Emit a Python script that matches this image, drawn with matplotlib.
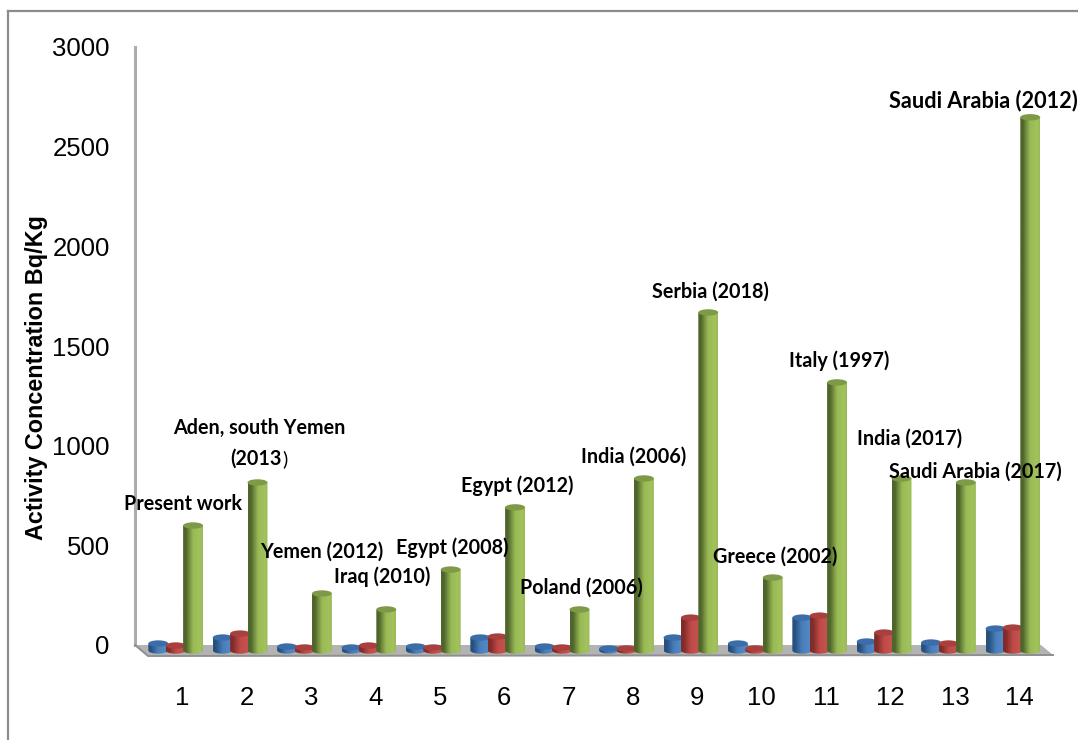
import matplotlib
matplotlib.use("Agg")
import matplotlib.pyplot as plt
import numpy as np
from matplotlib.colors import LinearSegmentedColormap
from matplotlib.patches import Ellipse, PathPatch, Polygon
from matplotlib.path import Path
from matplotlib.lines import Line2D
from matplotlib.transforms import Affine2D

categories = list(range(1, 15))
series_blue = [35, 65, 20, 15, 20, 65, 20, 10, 65, 35, 165, 45, 40, 110]
series_red = [25, 85, 15, 25, 15, 70, 15, 10, 165, 10, 175, 90, 35, 115]
series_green = [627, 843, 286, 206, 406, 718, 206, 863, 1696, 366, 1345, 863, 843, 2675]
y_ticks = [0, 500, 1000, 1500, 2000, 2500, 3000]

place_labels = [
    ("Present work", 183, 504, 14.2),
    ("Aden, south Yemen", 259, 428, 14.2),
    ("Yemen (2012)", 322, 552, 14.2),
    ("Iraq (2010)", 382, 577, 14.2),
    ("Egypt (2008)", 452, 548, 14.2),
    ("Egypt (2012)", 517, 486, 14.2),
    ("Poland (2006)", 581, 588, 14.2),
    ("India (2006)", 634, 457, 14.2),
    ("Serbia (2018)", 710, 292, 14.2),
    ("Greece (2002)", 775, 557, 14.2),
    ("Italy (1997)", 839, 361, 14.2),
    ("India (2017)", 910, 439, 14.2),
    ("Saudi Arabia (2017)", 975, 472, 14.2),
    ("Saudi Arabia (2012)", 983, 101, 15.6),
]

W, H = 1078, 740
fig = plt.figure(figsize=(W / 100, H / 100), dpi=100, facecolor="white")

# Plot area: categories run 0.5..14.5, values 0..3000 on the back wall
left, right, top, bottom = 150.0, 1051.6, 47.0, 645.0
ax = fig.add_axes([left / W, 1 - bottom / H, (right - left) / W, (bottom - top) / H])
ax.set_xlim(0.5, 14.5)
ax.set_ylim(0, 3000)
ax.patch.set_alpha(0)
for s in ax.spines.values():
    s.set_visible(False)

# Pixel-space transform for decoration, origin at the top left
px = Affine2D().scale(1, -1).translate(0, H)

# Outer chart frame
for xs, ys in (([8, 1078], [11, 11]), ([8, 8], [11, 740])):
    fig.add_artist(Line2D(xs, ys, transform=px, color="#8c8c8c", lw=1.6))

# Back wall edge and floor of the pseudo-3D box
ax.add_line(Line2D([135, 135], [47, 645], transform=px, color="#adadad", lw=2.2, clip_on=False, zorder=1))
ax.add_patch(Polygon([(135, 645), (1041, 645), (1053, 655), (148, 655)], closed=True, transform=px,
                     facecolor="#b3b3b3", edgecolor="none", clip_on=False, zorder=1))
ax.add_line(Line2D([135, 148, 1053], [645, 656, 655], transform=px, color="#8f8f8f", lw=1.4, clip_on=False, zorder=1))

# Columns sit slightly left of and below their category position
column_shift = ax.transData + Affine2D().translate(-6.5, -5.5)
half_w = 0.155
cap_h = 16.0
gap = 0.27


def shade(name, dark, mid, light):
    return LinearSegmentedColormap.from_list(name, [(0, dark), (0.14, dark), (0.5, mid), (0.85, light), (1, mid)])


palettes = [
    (series_blue, -gap, shade("b", "#27507f", "#4a7ebb", "#5288c6"), "#3d6da8"),
    (series_red, 0.0, shade("r", "#822c29", "#be4b48", "#c4524f"), "#a8403d"),
    (series_green, gap, shade("g", "#4f652b", "#98b954", "#a2c25e"), "#7f9a47"),
]
ramp = np.linspace(0, 1, 64).reshape(1, -1)


def cylinder(x, value, offset, cmap, cap, z):
    x0, x1 = x + offset - half_w, x + offset + half_w
    k = 0.5523
    verts = [(x0, value), (x0, 0),
             (x0, -k * cap_h), (x0 + half_w * (1 - k), -cap_h), (x0 + half_w, -cap_h),
             (x1 - half_w * (1 - k), -cap_h), (x1, -k * cap_h), (x1, 0),
             (x1, value), (x0, value)]
    codes = [Path.MOVETO, Path.LINETO, Path.CURVE4, Path.CURVE4, Path.CURVE4,
             Path.CURVE4, Path.CURVE4, Path.CURVE4, Path.LINETO, Path.CLOSEPOLY]
    outline = PathPatch(Path(verts, codes), transform=column_shift, facecolor="none",
                        edgecolor="none", zorder=z, clip_on=False)
    ax.add_patch(outline)
    im = ax.imshow(ramp, cmap=cmap, extent=(x0, x1, -cap_h, value), aspect="auto",
                   interpolation="bilinear", zorder=z, transform=column_shift)
    # The base of a column hangs below the value axis, so only its outline clips it
    im.set_clip_box(fig.bbox)
    im.set_clip_path(outline)
    ax.add_patch(Ellipse((x + offset, value), 2 * half_w, 2 * cap_h, transform=column_shift,
                         facecolor=cap, edgecolor="none", zorder=z + 0.1, clip_on=False))


z = 3.0
for i, x in enumerate(categories):
    for values, offset, cmap, cap in palettes:
        cylinder(x, values[i], offset, cmap, cap, z)
        z += 0.2

ax.set_xlim(0.5, 14.5)
ax.set_ylim(0, 3000)

ax.set_xticks(categories)
ax.set_xticklabels([str(c) for c in categories])
ax.set_yticks(y_ticks)
ax.set_yticklabels([str(t) for t in y_ticks])
ax.tick_params(axis="x", length=0, pad=29.5, labelsize=18.5, labelfontfamily="Liberation Sans")
ax.tick_params(axis="y", length=0, pad=29, labelsize=18.5, labelfontfamily="Liberation Sans")

fig.text(37 / W, 1 - 378 / H, "Activity Concentration Bq/Kg", rotation=90, ha="center", va="center",
         family="Liberation Sans", weight="bold", fontsize=16.8)

for text, cx, cy, size in place_labels:
    ax.text(cx, cy, text, transform=px, ha="center", va="center", family="Lato", weight="bold",
            fontsize=size, color="black", zorder=100, clip_on=False)

# Second line of the Aden label: the closing bracket is set in a lighter weight
ax.text(282, 459, "(2013", transform=px, ha="right", va="center", family="Lato", weight="bold",
        fontsize=14.2, zorder=100, clip_on=False)
ax.text(282, 459, ")", transform=px, ha="left", va="center", family="Lato", weight="normal",
        fontsize=14.2, zorder=100, clip_on=False)

fig.savefig("out.png", dpi=100)
